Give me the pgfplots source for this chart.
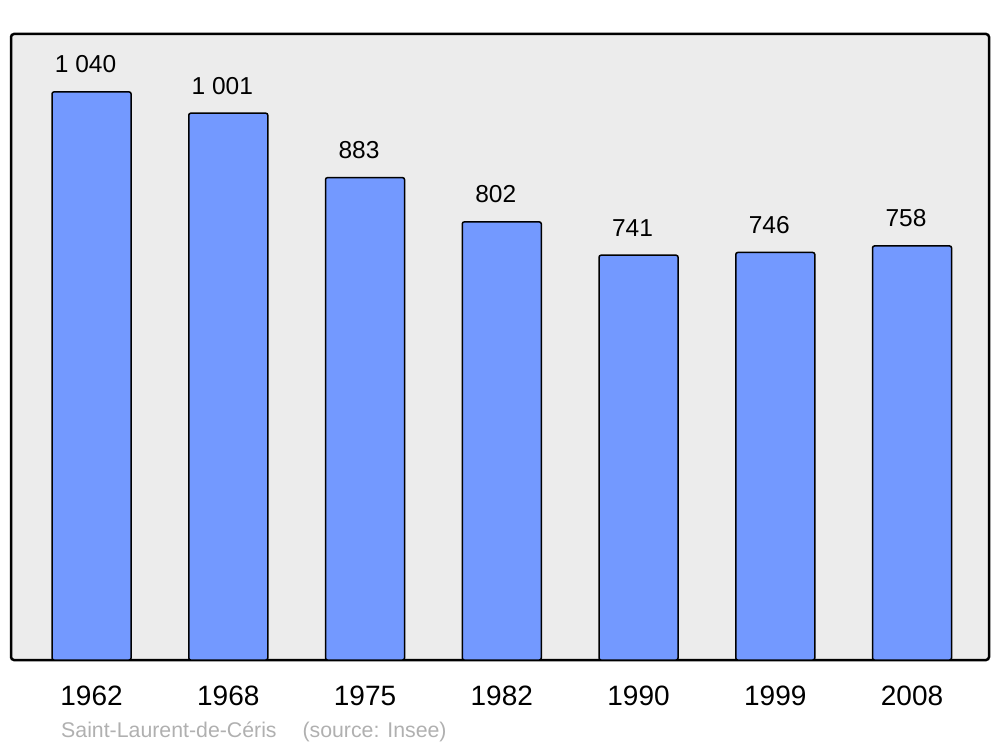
\documentclass[border=0pt]{standalone}
\usepackage{pgfplots}
\pgfplotsset{compat=1.18}
\usepackage{fontspec}
\setmainfont{Liberation Sans}
\definecolor{barblue}{HTML}{7399FF}
\definecolor{bgc}{HTML}{ECECEC}
\definecolor{capgray}{HTML}{B0B0B0}
\begin{document}
\begin{tikzpicture}[x=1pt,y=1pt]
\path[use as bounding box] (0,0) rectangle (1000,747);
\begin{axis}[
  at={(11pt,87pt)}, anchor=south west,
  width=978pt, height=626pt, scale only axis,
  xmin=-0.589, xmax=6.563, ymin=0, ymax=1146,
  axis background/.style={fill=bgc, rounded corners=3pt},
  axis line style={line width=2.5pt, rounded corners=3pt},
  separate axis lines=false,
  ytick=\empty,
  xtick={0,1,2,3,4,5,6},
  xticklabels={1962,1968,1975,1982,1990,1999,2008},
  major tick length=0pt,
  xticklabel style={anchor=base, yshift=-45pt, font=\fontsize{28}{28}\selectfont},
  ybar, bar width=0.578,
  nodes near coords,
  point meta=explicit symbolic,
  nodes near coords style={font=\fontsize{24.5}{24.5}\selectfont, anchor=base, yshift=19pt, xshift=-6pt, inner sep=0pt},
  clip=false,
]
\addplot[fill=barblue, draw=black, line width=1.5pt, rounded corners=2pt] coordinates {
  (0,1040) [1 040]
  (1,1001) [1 001]
  (2,883) [883]
  (3,802) [802]
  (4,741) [741]
  (5,746) [746]
  (6,758) [758]
};
\end{axis}
\node[anchor=base west, text=capgray, font=\fontsize{21.3}{21.3}\selectfont, inner sep=0pt] at (61,10) {Saint-Laurent-de-Céris\hspace{20pt} (source: Insee)};
\end{tikzpicture}
\end{document}
